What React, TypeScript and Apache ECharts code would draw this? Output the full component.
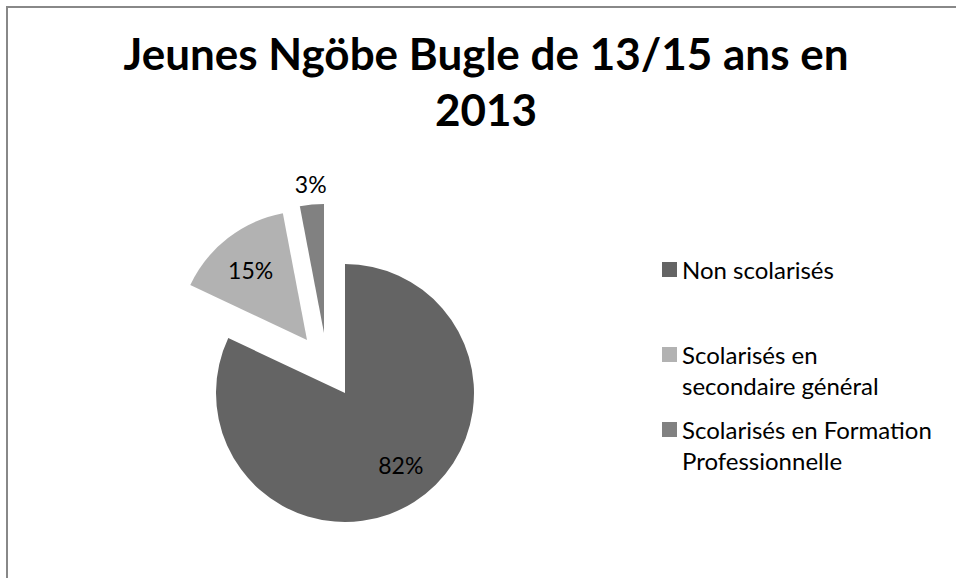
import React, { useEffect, useRef } from "react";
import * as echarts from "echarts";

// ---- Data ----
const categories = [
  "Non scolarisés",
  "Scolarisés en secondaire général",
  "Scolarisés en Formation Professionnelle",
];
const legendLabels = [
  "Non scolarisés",
  "Scolarisés en\nsecondaire général",
  "Scolarisés en Formation\nProfessionnelle",
];
const values = [82, 15, 3];
const colors = ["#646464", "#b2b2b2", "#818181"];
const titleText = "Jeunes Ngöbe Bugle de 13/15 ans en\n2013";

// ---- Layout (exploded slices) ----
const RADIUS = 129;
const sliceCenters = [
  [345, 393],
  [307, 340],
  [324, 333],
];
const labelCenters = [
  [351, 386],
  [307, 343],
  [325, 335],
];
const labelRadii = [
  [62, 118],
  [60, 118],
  [142, 156],
];
const legendTops = [254.5, 308, 383];
const FONT = "Lato";
const TRANSPARENT = "rgba(0,0,0,0)";

export default function App() {
  const ref = useRef<HTMLDivElement>(null);

  useEffect(() => {
    if (!ref.current) return;
    const chart = echarts.init(ref.current, null, { renderer: "svg" });

    const series: any[] = [];
    categories.forEach((name, i) => {
      series.push({
        type: "pie",
        name: "slice" + i,
        center: sliceCenters[i],
        radius: [0, RADIUS],
        startAngle: 90,
        clockwise: true,
        silent: true,
        avoidLabelOverlap: false,
        label: { show: false },
        labelLine: { show: false },
        itemStyle: { borderWidth: 0 },
        data: values.map((v, j) =>
          j === i
            ? { name, value: v, itemStyle: { color: colors[i] } }
            : { name: `_gap_${i}_${j}`, value: v, itemStyle: { color: TRANSPARENT } }
        ),
      });
    });
    categories.forEach((_name, i) => {
      series.push({
        type: "pie",
        name: "label" + i,
        center: labelCenters[i],
        radius: labelRadii[i],
        startAngle: 90,
        clockwise: true,
        silent: true,
        avoidLabelOverlap: false,
        itemStyle: { color: TRANSPARENT, borderWidth: 0 },
        labelLine: { show: false },
        label: { show: false },
        data: values.map((v, j) => ({
          name: `_lbl_${i}_${j}`,
          value: v,
          label: {
            show: j === i,
            position: "inside",
            formatter: (p: any) => Math.round(p.percent) + "%",
            color: "#000",
            fontSize: 23,
            fontFamily: FONT,
          },
        })),
      });
    });

    // two-line entries get a blank leading line so that their first line sits level with the icon
    const legends = categories.map((name, i) => {
      const multi = legendLabels[i].includes("\n");
      return {
        orient: "vertical",
        left: 662,
        top: legendTops[i],
        padding: 0,
        itemGap: 0,
        itemWidth: 15,
        itemHeight: 15,
        icon: "rect",
        selectedMode: false,
        formatter: () => (multi ? " \n" + legendLabels[i] : legendLabels[i]),
        textStyle: {
          fontFamily: FONT,
          fontSize: 24,
          color: "#000",
          lineHeight: multi ? 31 : 30,
        },
        data: [name],
      };
    });

    chart.setOption({
      animation: false,
      backgroundColor: "#fff",
      title: {
        text: titleText,
        left: 486,
        top: 25,
        textAlign: "center",
        padding: 0,
        textStyle: {
          fontFamily: FONT,
          fontWeight: "bold",
          fontSize: 44,
          lineHeight: 56,
          color: "#000",
        },
      },
      legend: legends,
      graphic: [
        {
          type: "rect",
          silent: true,
          shape: { x: 7, y: 7, width: 1000, height: 1000 },
          style: { fill: "none", stroke: "#888", lineWidth: 2 },
        },
      ],
      series,
    });

    return () => chart.dispose();
  }, []);

  return (
    <div
      ref={ref}
      style={{ position: "fixed", left: 0, top: 0, width: 956, height: 578 }}
    />
  );
}
